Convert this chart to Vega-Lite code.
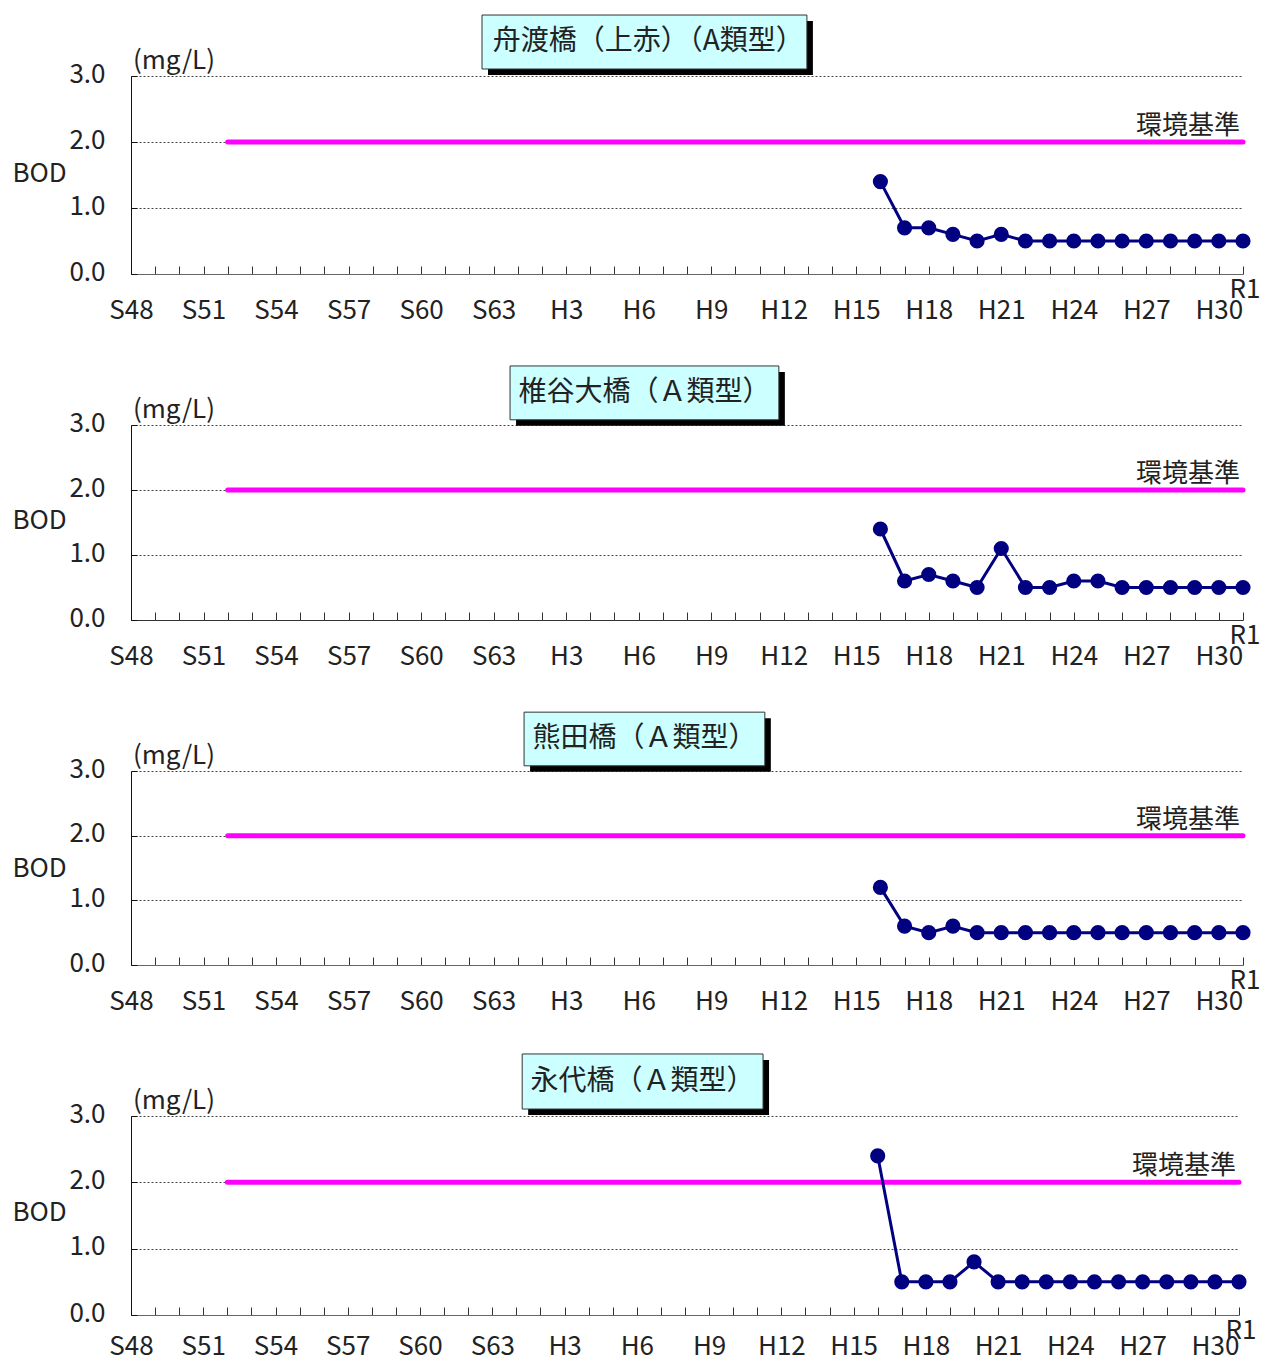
{
  "$schema": "https://vega.github.io/schema/vega-lite/v6.json",
  "padding": {"left": 12, "top": 14, "right": 2, "bottom": 0},
  "background": "white",
  "bounds": "flush",
  "spacing": 151,
  "config": {
    "view": {"stroke": null},
    "font": "Noto Sans CJK JP",
    "axis": {
      "labelFont": "Noto Sans CJK JP",
      "titleFont": "Noto Sans CJK JP",
      "labelFontSize": 26,
      "titleFontSize": 26,
      "titleFontWeight": "normal",
      "labelColor": "#222",
      "titleColor": "#222"
    },
    "axisX": {
      "tickCount": 46,
      "labelExpr": "(datum.value - 1973) % 3 === 0 && datum.value < 2019 ? (datum.value <= 1988 ? 'S' + (datum.value - 1925) : 'H' + (datum.value - 1988)) : ''",
      "grid": false, "tickSize": -8, "tickColor": "#333", "tickWidth": 1, "domainColor": "#666",
      "labelPadding": 31, "labelOverlap": false, "labelFlush": false
    },
    "axisY": {
      "titleAngle": 0, "titleAlign": "left", "titleBaseline": "middle", "titleX": -119,
      "format": ".1f", "grid": true, "gridDash": [2, 2], "gridColor": "#444", "gridWidth": 1,
      "tickSize": -6, "tickColor": "#111", "domainColor": "#111", "labelPadding": 32, "labelOffset": -2
    },
    "text": {"font": "Noto Sans CJK JP", "fontSize": 26, "color": "#222"}
  },
  "datasets": {
    "bod": [
      {"site": "舟渡橋", "year": 2004, "bod": 1.4},
      {"site": "舟渡橋", "year": 2005, "bod": 0.7},
      {"site": "舟渡橋", "year": 2006, "bod": 0.7},
      {"site": "舟渡橋", "year": 2007, "bod": 0.6},
      {"site": "舟渡橋", "year": 2008, "bod": 0.5},
      {"site": "舟渡橋", "year": 2009, "bod": 0.6},
      {"site": "舟渡橋", "year": 2010, "bod": 0.5},
      {"site": "舟渡橋", "year": 2011, "bod": 0.5},
      {"site": "舟渡橋", "year": 2012, "bod": 0.5},
      {"site": "舟渡橋", "year": 2013, "bod": 0.5},
      {"site": "舟渡橋", "year": 2014, "bod": 0.5},
      {"site": "舟渡橋", "year": 2015, "bod": 0.5},
      {"site": "舟渡橋", "year": 2016, "bod": 0.5},
      {"site": "舟渡橋", "year": 2017, "bod": 0.5},
      {"site": "舟渡橋", "year": 2018, "bod": 0.5},
      {"site": "舟渡橋", "year": 2019, "bod": 0.5},
      {"site": "椎谷大橋", "year": 2004, "bod": 1.4},
      {"site": "椎谷大橋", "year": 2005, "bod": 0.6},
      {"site": "椎谷大橋", "year": 2006, "bod": 0.7},
      {"site": "椎谷大橋", "year": 2007, "bod": 0.6},
      {"site": "椎谷大橋", "year": 2008, "bod": 0.5},
      {"site": "椎谷大橋", "year": 2009, "bod": 1.1},
      {"site": "椎谷大橋", "year": 2010, "bod": 0.5},
      {"site": "椎谷大橋", "year": 2011, "bod": 0.5},
      {"site": "椎谷大橋", "year": 2012, "bod": 0.6},
      {"site": "椎谷大橋", "year": 2013, "bod": 0.6},
      {"site": "椎谷大橋", "year": 2014, "bod": 0.5},
      {"site": "椎谷大橋", "year": 2015, "bod": 0.5},
      {"site": "椎谷大橋", "year": 2016, "bod": 0.5},
      {"site": "椎谷大橋", "year": 2017, "bod": 0.5},
      {"site": "椎谷大橋", "year": 2018, "bod": 0.5},
      {"site": "椎谷大橋", "year": 2019, "bod": 0.5},
      {"site": "熊田橋", "year": 2004, "bod": 1.2},
      {"site": "熊田橋", "year": 2005, "bod": 0.6},
      {"site": "熊田橋", "year": 2006, "bod": 0.5},
      {"site": "熊田橋", "year": 2007, "bod": 0.6},
      {"site": "熊田橋", "year": 2008, "bod": 0.5},
      {"site": "熊田橋", "year": 2009, "bod": 0.5},
      {"site": "熊田橋", "year": 2010, "bod": 0.5},
      {"site": "熊田橋", "year": 2011, "bod": 0.5},
      {"site": "熊田橋", "year": 2012, "bod": 0.5},
      {"site": "熊田橋", "year": 2013, "bod": 0.5},
      {"site": "熊田橋", "year": 2014, "bod": 0.5},
      {"site": "熊田橋", "year": 2015, "bod": 0.5},
      {"site": "熊田橋", "year": 2016, "bod": 0.5},
      {"site": "熊田橋", "year": 2017, "bod": 0.5},
      {"site": "熊田橋", "year": 2018, "bod": 0.5},
      {"site": "熊田橋", "year": 2019, "bod": 0.5},
      {"site": "永代橋", "year": 2004, "bod": 2.4},
      {"site": "永代橋", "year": 2005, "bod": 0.5},
      {"site": "永代橋", "year": 2006, "bod": 0.5},
      {"site": "永代橋", "year": 2007, "bod": 0.5},
      {"site": "永代橋", "year": 2008, "bod": 0.8},
      {"site": "永代橋", "year": 2009, "bod": 0.5},
      {"site": "永代橋", "year": 2010, "bod": 0.5},
      {"site": "永代橋", "year": 2011, "bod": 0.5},
      {"site": "永代橋", "year": 2012, "bod": 0.5},
      {"site": "永代橋", "year": 2013, "bod": 0.5},
      {"site": "永代橋", "year": 2014, "bod": 0.5},
      {"site": "永代橋", "year": 2015, "bod": 0.5},
      {"site": "永代橋", "year": 2016, "bod": 0.5},
      {"site": "永代橋", "year": 2017, "bod": 0.5},
      {"site": "永代橋", "year": 2018, "bod": 0.5},
      {"site": "永代橋", "year": 2019, "bod": 0.5}
    ],
    "std": [
      {"from": 1977, "to": 2019, "std": 2.0, "label": "環境基準"}
    ],
    "one": [{}]
  },
  "vconcat": [
    {
      "width": 1112, "height": 198,
      "layer": [
        {
          "data": {"name": "std"},
          "mark": {"type": "rule", "color": "#ff00ff", "strokeWidth": 5, "strokeCap": "round"},
          "encoding": {
            "x": {"field": "from", "type": "quantitative", "scale": {"domain": [1973, 2019], "nice": false, "zero": false}, "axis": {"title": null}},
            "x2": {"field": "to"},
            "y": {"field": "std", "type": "quantitative", "scale": {"domain": [0, 3], "nice": false}, "axis": {"title": "BOD", "titleY": 97, "values": [0, 1, 2, 3]}}
          }
        },
        {
          "data": {"name": "std"},
          "mark": {"type": "text", "align": "right", "baseline": "alphabetic", "dx": -3, "dy": -8},
          "encoding": {
            "x": {"field": "to", "type": "quantitative"},
            "y": {"field": "std", "type": "quantitative"},
            "text": {"field": "label"}
          }
        },
        {
          "data": {"name": "bod"},
          "transform": [{"filter": "datum.site === '舟渡橋'"}],
          "mark": {"type": "line", "color": "#000080", "strokeWidth": 3, "point": {"filled": true, "size": 230, "color": "#000080", "opacity": 1}},
          "encoding": {
            "x": {"field": "year", "type": "quantitative"},
            "y": {"field": "bod", "type": "quantitative"}
          }
        },
        {
          "data": {"name": "one"},
          "mark": {"type": "rect", "color": "#000", "xOffset": 6, "x2Offset": 6, "yOffset": 6, "y2Offset": 6},
          "encoding": {
            "x": {"datum": 1987.52, "type": "quantitative"},
            "x2": {"datum": 2000.96},
            "y": {"datum": 3.924, "type": "quantitative"},
            "y2": {"datum": 3.106}
          }
        },
        {
          "data": {"name": "one"},
          "mark": {"type": "rect", "fill": "#ccffff", "stroke": "#333", "strokeWidth": 1},
          "encoding": {
            "x": {"datum": 1987.52, "type": "quantitative"},
            "x2": {"datum": 2000.96},
            "y": {"datum": 3.924, "type": "quantitative"},
            "y2": {"datum": 3.106}
          }
        },
        {
          "data": {"name": "one"},
          "mark": {"type": "text", "align": "center", "baseline": "middle", "fontSize": 28},
          "encoding": {
            "x": {"datum": 1994.4, "type": "quantitative"},
            "y": {"datum": 3.515, "type": "quantitative"},
            "text": {"value": "舟渡橋（上赤）（A類型）"}
          }
        },
        {
          "data": {"name": "one"},
          "mark": {"type": "text", "align": "left", "baseline": "alphabetic", "dx": 2, "dy": -7},
          "encoding": {
            "x": {"datum": 1973, "type": "quantitative"},
            "y": {"datum": 3, "type": "quantitative"},
            "text": {"value": "(mg/L)"}
          }
        },
        {
          "data": {"name": "one"},
          "mark": {"type": "text", "align": "center", "baseline": "middle", "dx": 2, "dy": 16},
          "encoding": {
            "x": {"datum": 2019, "type": "quantitative"},
            "y": {"datum": 0, "type": "quantitative"},
            "text": {"value": "R1"}
          }
        }
      ]
    },
    {
      "width": 1112, "height": 195,
      "layer": [
        {
          "data": {"name": "std"},
          "mark": {"type": "rule", "color": "#ff00ff", "strokeWidth": 5, "strokeCap": "round"},
          "encoding": {
            "x": {"field": "from", "type": "quantitative", "scale": {"domain": [1973, 2019], "nice": false, "zero": false}, "axis": {"title": null, "domainColor": "#333"}},
            "x2": {"field": "to"},
            "y": {"field": "std", "type": "quantitative", "scale": {"domain": [0, 3], "nice": false}, "axis": {"title": "BOD", "titleY": 95, "values": [0, 1, 2, 3]}}
          }
        },
        {
          "data": {"name": "std"},
          "mark": {"type": "text", "align": "right", "baseline": "alphabetic", "dx": -3, "dy": -8},
          "encoding": {
            "x": {"field": "to", "type": "quantitative"},
            "y": {"field": "std", "type": "quantitative"},
            "text": {"field": "label"}
          }
        },
        {
          "data": {"name": "bod"},
          "transform": [{"filter": "datum.site === '椎谷大橋'"}],
          "mark": {"type": "line", "color": "#000080", "strokeWidth": 3, "point": {"filled": true, "size": 230, "color": "#000080", "opacity": 1}},
          "encoding": {
            "x": {"field": "year", "type": "quantitative"},
            "y": {"field": "bod", "type": "quantitative"}
          }
        },
        {
          "data": {"name": "one"},
          "mark": {"type": "rect", "color": "#000", "xOffset": 6, "x2Offset": 6, "yOffset": 6, "y2Offset": 6},
          "encoding": {
            "x": {"datum": 1988.68, "type": "quantitative"},
            "x2": {"datum": 1999.80},
            "y": {"datum": 3.908, "type": "quantitative"},
            "y2": {"datum": 3.08}
          }
        },
        {
          "data": {"name": "one"},
          "mark": {"type": "rect", "fill": "#ccffff", "stroke": "#333", "strokeWidth": 1},
          "encoding": {
            "x": {"datum": 1988.68, "type": "quantitative"},
            "x2": {"datum": 1999.80},
            "y": {"datum": 3.908, "type": "quantitative"},
            "y2": {"datum": 3.08}
          }
        },
        {
          "data": {"name": "one"},
          "mark": {"type": "text", "align": "center", "baseline": "middle", "fontSize": 28},
          "encoding": {
            "x": {"datum": 1994.24, "type": "quantitative"},
            "y": {"datum": 3.494, "type": "quantitative"},
            "text": {"value": "椎谷大橋（Ａ類型）"}
          }
        },
        {
          "data": {"name": "one"},
          "mark": {"type": "text", "align": "left", "baseline": "alphabetic", "dx": 2, "dy": -7},
          "encoding": {
            "x": {"datum": 1973, "type": "quantitative"},
            "y": {"datum": 3, "type": "quantitative"},
            "text": {"value": "(mg/L)"}
          }
        },
        {
          "data": {"name": "one"},
          "mark": {"type": "text", "align": "center", "baseline": "middle", "dx": 2, "dy": 16},
          "encoding": {
            "x": {"datum": 2019, "type": "quantitative"},
            "y": {"datum": 0, "type": "quantitative"},
            "text": {"value": "R1"}
          }
        }
      ]
    },
    {
      "width": 1112, "height": 194,
      "layer": [
        {
          "data": {"name": "std"},
          "mark": {"type": "rule", "color": "#ff00ff", "strokeWidth": 5, "strokeCap": "round"},
          "encoding": {
            "x": {"field": "from", "type": "quantitative", "scale": {"domain": [1973, 2019], "nice": false, "zero": false}, "axis": {"title": null}},
            "x2": {"field": "to"},
            "y": {"field": "std", "type": "quantitative", "scale": {"domain": [0, 3], "nice": false}, "axis": {"title": "BOD", "titleY": 97, "values": [0, 1, 2, 3]}}
          }
        },
        {
          "data": {"name": "std"},
          "mark": {"type": "text", "align": "right", "baseline": "alphabetic", "dx": -3, "dy": -8},
          "encoding": {
            "x": {"field": "to", "type": "quantitative"},
            "y": {"field": "std", "type": "quantitative"},
            "text": {"field": "label"}
          }
        },
        {
          "data": {"name": "bod"},
          "transform": [{"filter": "datum.site === '熊田橋'"}],
          "mark": {"type": "line", "color": "#000080", "strokeWidth": 3, "point": {"filled": true, "size": 230, "color": "#000080", "opacity": 1}},
          "encoding": {
            "x": {"field": "year", "type": "quantitative"},
            "y": {"field": "bod", "type": "quantitative"}
          }
        },
        {
          "data": {"name": "one"},
          "mark": {"type": "rect", "color": "#000", "xOffset": 6, "x2Offset": 6, "yOffset": 6, "y2Offset": 6},
          "encoding": {
            "x": {"datum": 1989.26, "type": "quantitative"},
            "x2": {"datum": 1999.22},
            "y": {"datum": 3.91, "type": "quantitative"},
            "y2": {"datum": 3.08}
          }
        },
        {
          "data": {"name": "one"},
          "mark": {"type": "rect", "fill": "#ccffff", "stroke": "#333", "strokeWidth": 1},
          "encoding": {
            "x": {"datum": 1989.26, "type": "quantitative"},
            "x2": {"datum": 1999.22},
            "y": {"datum": 3.91, "type": "quantitative"},
            "y2": {"datum": 3.08}
          }
        },
        {
          "data": {"name": "one"},
          "mark": {"type": "text", "align": "center", "baseline": "middle", "fontSize": 28},
          "encoding": {
            "x": {"datum": 1994.24, "type": "quantitative"},
            "y": {"datum": 3.495, "type": "quantitative"},
            "text": {"value": "熊田橋（Ａ類型）"}
          }
        },
        {
          "data": {"name": "one"},
          "mark": {"type": "text", "align": "left", "baseline": "alphabetic", "dx": 2, "dy": -7},
          "encoding": {
            "x": {"datum": 1973, "type": "quantitative"},
            "y": {"datum": 3, "type": "quantitative"},
            "text": {"value": "(mg/L)"}
          }
        },
        {
          "data": {"name": "one"},
          "mark": {"type": "text", "align": "center", "baseline": "middle", "dx": 2, "dy": 16},
          "encoding": {
            "x": {"datum": 2019, "type": "quantitative"},
            "y": {"datum": 0, "type": "quantitative"},
            "text": {"value": "R1"}
          }
        }
      ]
    },
    {
      "width": 1108, "height": 199,
      "layer": [
        {
          "data": {"name": "std"},
          "mark": {"type": "rule", "color": "#ff00ff", "strokeWidth": 5, "strokeCap": "round"},
          "encoding": {
            "x": {"field": "from", "type": "quantitative", "scale": {"domain": [1973, 2019], "nice": false, "zero": false}, "axis": {"title": null, "labelPadding": 26}},
            "x2": {"field": "to"},
            "y": {"field": "std", "type": "quantitative", "scale": {"domain": [0, 3], "nice": false}, "axis": {"title": "BOD", "titleY": 96, "values": [0, 1, 2, 3]}}
          }
        },
        {
          "data": {"name": "std"},
          "mark": {"type": "text", "align": "right", "baseline": "alphabetic", "dx": -3, "dy": -8},
          "encoding": {
            "x": {"field": "to", "type": "quantitative"},
            "y": {"field": "std", "type": "quantitative"},
            "text": {"field": "label"}
          }
        },
        {
          "data": {"name": "bod"},
          "transform": [{"filter": "datum.site === '永代橋'"}],
          "mark": {"type": "line", "color": "#000080", "strokeWidth": 3, "point": {"filled": true, "size": 230, "color": "#000080", "opacity": 1}},
          "encoding": {
            "x": {"field": "year", "type": "quantitative"},
            "y": {"field": "bod", "type": "quantitative"}
          }
        },
        {
          "data": {"name": "one"},
          "mark": {"type": "rect", "color": "#000", "xOffset": 6, "x2Offset": 6, "yOffset": 6, "y2Offset": 6},
          "encoding": {
            "x": {"datum": 1989.24, "type": "quantitative"},
            "x2": {"datum": 1999.24},
            "y": {"datum": 3.935, "type": "quantitative"},
            "y2": {"datum": 3.105}
          }
        },
        {
          "data": {"name": "one"},
          "mark": {"type": "rect", "fill": "#ccffff", "stroke": "#333", "strokeWidth": 1},
          "encoding": {
            "x": {"datum": 1989.24, "type": "quantitative"},
            "x2": {"datum": 1999.24},
            "y": {"datum": 3.935, "type": "quantitative"},
            "y2": {"datum": 3.105}
          }
        },
        {
          "data": {"name": "one"},
          "mark": {"type": "text", "align": "center", "baseline": "middle", "fontSize": 28},
          "encoding": {
            "x": {"datum": 1994.24, "type": "quantitative"},
            "y": {"datum": 3.52, "type": "quantitative"},
            "text": {"value": "永代橋（Ａ類型）"}
          }
        },
        {
          "data": {"name": "one"},
          "mark": {"type": "text", "align": "left", "baseline": "alphabetic", "dx": 2, "dy": -7},
          "encoding": {
            "x": {"datum": 1973, "type": "quantitative"},
            "y": {"datum": 3, "type": "quantitative"},
            "text": {"value": "(mg/L)"}
          }
        },
        {
          "data": {"name": "one"},
          "mark": {"type": "text", "align": "center", "baseline": "middle", "dx": 2, "dy": 16},
          "encoding": {
            "x": {"datum": 2019, "type": "quantitative"},
            "y": {"datum": 0, "type": "quantitative"},
            "text": {"value": "R1"}
          }
        }
      ]
    }
  ]
}
